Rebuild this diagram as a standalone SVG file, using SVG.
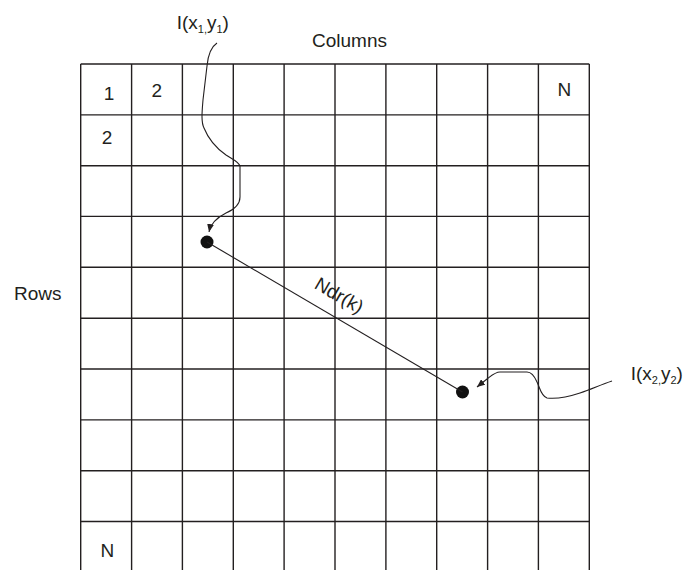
<svg xmlns="http://www.w3.org/2000/svg" width="688" height="570" viewBox="0 0 688 570">
<style>
.g{stroke:#231f20;stroke-width:1.4;fill:none}
.t{font-family:"Liberation Sans",Arial,sans-serif;font-size:19px;fill:#231f20}
.c{stroke:#231f20;stroke-width:1.1;fill:none}
.s{font-size:11px}
</style>
<defs>
<marker id="ah" markerUnits="userSpaceOnUse" markerWidth="8" markerHeight="7" refX="8" refY="3.5" orient="auto">
<path d="M0,0 L8,3.5 L0,7 z" fill="#231f20"/>
</marker>
</defs>
<rect width="688" height="570" fill="#fff"/>
<g id="grid" class="g">
<line x1="80.7" y1="64" x2="80.7" y2="572"/>
<line x1="131.6" y1="64" x2="131.6" y2="572"/>
<line x1="182.4" y1="64" x2="182.4" y2="572"/>
<line x1="233.3" y1="64" x2="233.3" y2="572"/>
<line x1="284.1" y1="64" x2="284.1" y2="572"/>
<line x1="335" y1="64" x2="335" y2="572"/>
<line x1="385.9" y1="64" x2="385.9" y2="572"/>
<line x1="436.7" y1="64" x2="436.7" y2="572"/>
<line x1="487.6" y1="64" x2="487.6" y2="572"/>
<line x1="538.4" y1="64" x2="538.4" y2="572"/>
<line x1="589.3" y1="64" x2="589.3" y2="572"/>
<line x1="80.7" y1="64" x2="589.3" y2="64"/>
<line x1="80.7" y1="114.9" x2="589.3" y2="114.9"/>
<line x1="80.7" y1="165.7" x2="589.3" y2="165.7"/>
<line x1="80.7" y1="216.4" x2="589.3" y2="216.4"/>
<line x1="80.7" y1="267.3" x2="589.3" y2="267.3"/>
<line x1="80.7" y1="318.2" x2="589.3" y2="318.2"/>
<line x1="80.7" y1="369" x2="589.3" y2="369"/>
<line x1="80.7" y1="419.9" x2="589.3" y2="419.9"/>
<line x1="80.7" y1="470.7" x2="589.3" y2="470.7"/>
<line x1="80.7" y1="521.5" x2="589.3" y2="521.5"/>
</g>
<g id="cells" class="t" text-anchor="middle">
<text x="109" y="100">1</text>
<text x="156.7" y="97">2</text>
<text x="107" y="144">2</text>
<text x="564.3" y="96">N</text>
<text x="107.3" y="556.5">N</text>
</g>
<g id="columns-label"><text class="t" x="312" y="47">Columns</text></g>
<g id="rows-label"><text class="t" x="14" y="300">Rows</text></g>
<g id="p1-label"><text class="t" x="176.7" y="29">I(x<tspan class="s" dy="4">1</tspan><tspan class="s">,</tspan><tspan dy="-4">y</tspan><tspan class="s" dy="4">1</tspan><tspan dy="-4">)</tspan></text></g>
<g id="p2-label"><text class="t" x="630.7" y="380">I(x<tspan class="s" dy="4">2</tspan><tspan class="s">,</tspan><tspan dy="-4">y</tspan><tspan class="s" dy="4">2</tspan><tspan dy="-4">)</tspan></text></g>
<g id="p1"><circle cx="207" cy="242" r="6.5" fill="#111"/></g>
<g id="p2"><circle cx="462.5" cy="392" r="6.5" fill="#111"/></g>
<g id="connectors">
<line class="c" x1="207" y1="242" x2="462.5" y2="392"/>
<path class="c" marker-end="url(#ah)" d="M217,43 C211,47 208,55 207,66 L203,100 C202,112 201,122 204,128 C208,138 216,148 226,155 C232,159 238,161 240,166 L240,197 C240,205 233,210 226,213 C218,217 211,222 209,232"/>
<path class="c" marker-end="url(#ah)" d="M612,381 C600,385 592,389 580,393 C568,397 555,399 547,398 C541,396 540,388 537,382 C534,375 531,372 527,372 L500,372 C495,372 491,376 487,379 L477,387"/>
<text class="t" text-anchor="middle" x="336" y="301" transform="rotate(30 336 301)">Ndr(k)</text>
</g>
</svg>
